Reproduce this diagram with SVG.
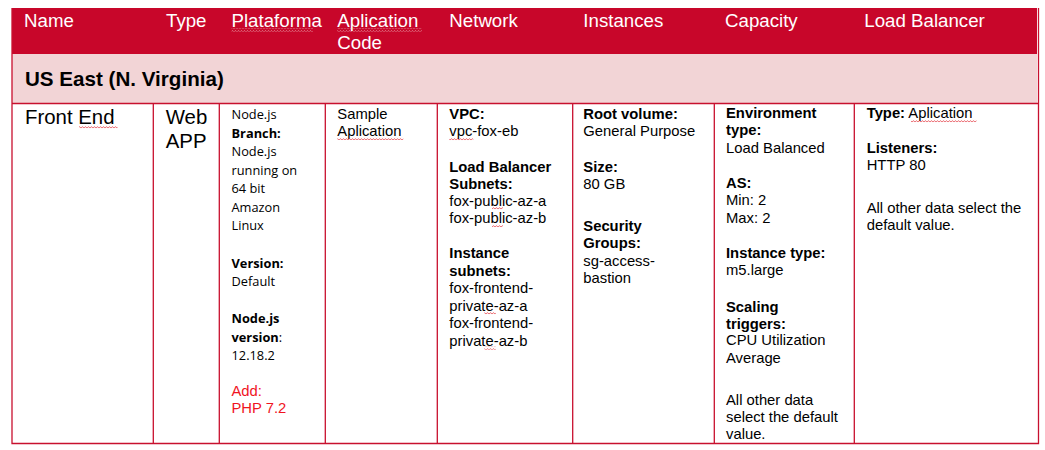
<svg xmlns="http://www.w3.org/2000/svg" width="1045" height="450" viewBox="0 0 1045 450">
<style>
.h{font-family:"Liberation Sans",Arial,sans-serif;font-size:18.7px;fill:#fff}
.a{font-family:"Liberation Sans",Arial,sans-serif;font-size:14.8px;fill:#000}
.big{font-family:"Liberation Sans",Arial,sans-serif;font-size:20.4px;fill:#000}
.c{font-family:"Open Sans","Noto Sans",sans-serif;font-size:12.8px;fill:#000}
.b{font-weight:bold}
.red{fill:#f0141e}
.grid{stroke:#c8102e;stroke-width:1.3;fill:none}
</style>
<defs>
<pattern id="wv" width="3" height="3" patternUnits="userSpaceOnUse">
<path d="M0 2.2 L1.5 0.6 L3 2.2" stroke="#e0202a" stroke-width="0.7" fill="none"/>
</pattern>
<pattern id="wvl" width="3" height="3" patternUnits="userSpaceOnUse">
<path d="M0 2.2 L1.5 0.6 L3 2.2" stroke="#f2c7cc" stroke-width="0.7" fill="none"/>
</pattern>
</defs>
<rect width="1045" height="450" fill="#fff"/>
<g id="header">
<rect x="12" y="8" width="1025" height="46" fill="#c8062a"/>
<text class="h" x="24" y="27">Name</text>
<text class="h" x="166" y="27">Type</text>
<text class="h" x="231.5" y="27">Plataforma</text>
<text class="h" x="337.3" y="27">Aplication</text>
<text class="h" x="337.3" y="48.5">Code</text>
<text class="h" x="449.3" y="27">Network</text>
<text class="h" x="583.3" y="27">Instances</text>
<text class="h" x="725" y="27">Capacity</text>
<text class="h" x="864.3" y="27">Load Balancer</text>
<rect x="231.5" y="28.5" width="81.5" height="3" fill="url(#wvl)"/>
<rect x="337.3" y="28.5" width="84.5" height="3" fill="url(#wvl)"/>
</g>
<g id="region">
<rect x="12" y="54" width="1025" height="49.5" fill="#f2d4d6"/>
<text class="big b" x="25" y="86" style="font-size:20.6px">US East (N. Virginia)</text>
</g>
<g id="grid">
<path class="grid" d="M12 8 V443.5 H1038.5 V8 M12 103.5 H1038.5 M153.3 103.5 V443.5 M219.3 103.5 V443.5 M325.3 103.5 V443.5 M437.3 103.5 V443.5 M572.7 103.5 V443.5 M714.3 103.5 V443.5 M854.3 103.5 V443.5"/>
</g>
<g id="name-cell">
<text class="big" x="25" y="124">Front End</text>
<rect x="79" y="126" width="38.5" height="3" fill="url(#wv)"/>
</g>
<g id="type-cell">
<text class="big" x="165.7" y="124">Web</text>
<text class="big" x="165.7" y="147.5">APP</text>
</g>
<g id="platform-cell">
<text class="c" x="231.5" y="119">Node.js</text>
<text class="c b" x="231.5" y="137.5">Branch:</text>
<text class="c" x="231.5" y="156">Node.js</text>
<text class="c" x="231.5" y="174.5">running on</text>
<text class="c" x="231.5" y="193">64 bit</text>
<text class="c" x="231.5" y="211.5">Amazon</text>
<text class="c" x="231.5" y="230">Linux</text>
<text class="c b" x="231.5" y="267.5">Version:</text>
<text class="c" x="231.5" y="285.7">Default</text>
<text class="c b" x="231.5" y="322.7">Node.js</text>
<text class="c" x="231.5" y="341.5"><tspan class="b">version</tspan>:</text>
<text class="c" x="231.5" y="359.5">12.18.2</text>
<text class="a red" x="231.5" y="395.7">Add:</text>
<text class="a red" x="231.5" y="413.3">PHP 7.2</text>
</g>
<g id="code-cell">
<text class="a" x="337.3" y="119">Sample</text>
<text class="a" x="337.3" y="136">Aplication</text>
<rect x="337.3" y="137" width="66" height="3" fill="url(#wv)"/>
</g>
<g id="network-cell">
<text class="a b" x="449.3" y="118.7">VPC:</text>
<text class="a" x="449.3" y="136">vpc-fox-eb</text>
<rect x="449.3" y="137.5" width="24" height="3" fill="url(#wv)"/>
<text class="a b" x="449.3" y="171.7">Load Balancer</text>
<text class="a b" x="449.3" y="188.7">Subnets:</text>
<text class="a" x="449.3" y="206">fox-public-az-a</text>
<rect x="492" y="207" width="11" height="3" fill="url(#wv)"/>
<text class="a" x="449.3" y="223.3">fox-public-az-b</text>
<rect x="492" y="224.3" width="11" height="3" fill="url(#wv)"/>
<text class="a b" x="449.3" y="258.3">Instance</text>
<text class="a b" x="449.3" y="275.7">subnets:</text>
<text class="a" x="449.3" y="293.3">fox-frontend-</text>
<text class="a" x="449.3" y="310.7">private-az-a</text>
<rect x="484.3" y="311.7" width="11.5" height="3" fill="url(#wv)"/>
<text class="a" x="449.3" y="328.3">fox-frontend-</text>
<text class="a" x="449.3" y="345.7">private-az-b</text>
<rect x="484.3" y="346.7" width="11.5" height="3" fill="url(#wv)"/>
</g>
<g id="instances-cell">
<text class="a b" x="583.3" y="118.7">Root volume:</text>
<text class="a" x="583.3" y="136">General Purpose</text>
<text class="a b" x="583.3" y="171.7">Size:</text>
<text class="a" x="583.3" y="188.5">80 GB</text>
<text class="a b" x="583.3" y="230.7">Security</text>
<text class="a b" x="583.3" y="248.3">Groups:</text>
<text class="a" x="583.3" y="265.7">sg-access-</text>
<text class="a" x="583.3" y="282.7">bastion</text>
</g>
<g id="capacity-cell">
<text class="a b" x="726" y="118.3">Environment</text>
<text class="a b" x="726" y="135.3">type:</text>
<text class="a" x="726" y="153.3">Load Balanced</text>
<text class="a b" x="726" y="188.3">AS:</text>
<text class="a" x="726" y="205.3">Min: 2</text>
<text class="a" x="726" y="222.7">Max: 2</text>
<text class="a b" x="726" y="258.3">Instance type:</text>
<text class="a" x="726" y="275.3">m5.large</text>
<text class="a b" x="726" y="311.7">Scaling</text>
<text class="a b" x="726" y="328.5">triggers:</text>
<text class="a" x="726" y="345.3">CPU Utilization</text>
<text class="a" x="726" y="362.7">Average</text>
<text class="a" x="726" y="405">All other data</text>
<text class="a" x="726" y="421.7">select the default</text>
<text class="a" x="726" y="438.5">value.</text>
</g>
<g id="lb-cell">
<text class="a" x="866.7" y="118.3"><tspan class="b">Type:</tspan> Aplication</text>
<rect x="911" y="119.5" width="65.5" height="3" fill="url(#wv)"/>
<text class="a b" x="866.7" y="153.3">Listeners:</text>
<text class="a" x="866.7" y="170.3">HTTP 80</text>
<text class="a" x="866.7" y="212.7">All other data select the</text>
<text class="a" x="866.7" y="230">default value.</text>
</g>
</svg>
